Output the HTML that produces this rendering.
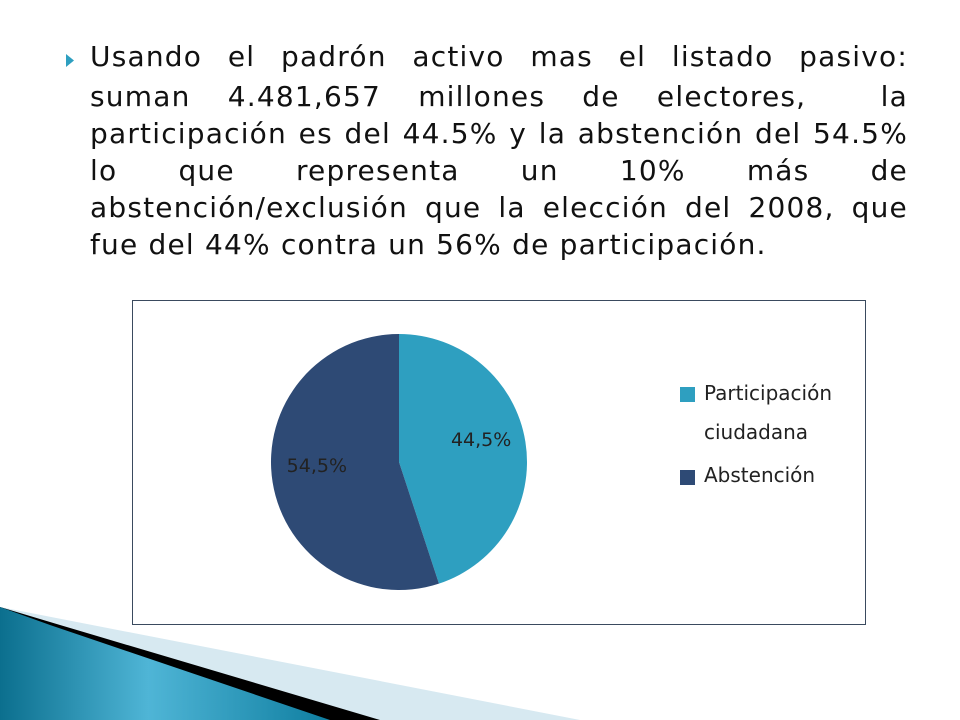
<!DOCTYPE html>
<html><head><meta charset="utf-8">
<style>
html,body{margin:0;padding:0;background:#fff;}
#root{position:relative;width:960px;height:720px;overflow:hidden;background:#fff;font-family:"DejaVu Sans","Liberation Sans",sans-serif;}
.line{position:absolute;left:90px;width:818px;font-size:28px;letter-spacing:1.2px;color:#111;text-align:justify;text-align-last:justify;white-space:nowrap;}
.line.last{text-align-last:left;}
</style></head>
<body>
<div id="root">
<svg style="position:absolute;left:0;top:0" width="960" height="720">
  <defs>
    <linearGradient id="gb" x1="0" y1="0" x2="1" y2="0">
      <stop offset="0" stop-color="#0b6f8e"/><stop offset="0.45" stop-color="#4fb5d6"/><stop offset="1" stop-color="#0f7ea0"/>
    </linearGradient>
  </defs>
  <polygon points="0,607 580,720 0,720" fill="#d7e9f1"/>
  <polygon points="0,607 60,625 380,720 0,720" fill="#000"/>
  <polygon points="0,607 50,625 330,720 0,720" fill="url(#gb)"/>
  <polygon points="66,54 74,60.5 66,67" fill="#2e9fc0"/>
  <rect x="132.5" y="300.5" width="733" height="324" fill="none" stroke="#3a4a5e" stroke-width="1"/>
  <g id="pie"></g>
  <rect x="680" y="387" width="15" height="15" fill="#2e9fc0"/>
  <text x="704" y="400" font-size="20" fill="#222" font-family="DejaVu Sans, sans-serif">Participación</text>
  <text x="704" y="439" font-size="20" fill="#222" font-family="DejaVu Sans, sans-serif">ciudadana</text>
  <rect x="680" y="470" width="15" height="15" fill="#2e4a75"/>
  <text x="704" y="482" font-size="20" fill="#222" font-family="DejaVu Sans, sans-serif">Abstención</text>
</svg>
<div class="line" style="top:40px">Usando el padrón activo mas el listado pasivo:</div>
<div class="line" style="top:80px">suman 4.481,657 millones de electores, &nbsp;la</div>
<div class="line" style="top:117px">participación es del 44.5% y la abstención del 54.5%</div>
<div class="line" style="top:154px">lo que representa un 10% más de</div>
<div class="line" style="top:191px">abstención/exclusión que la elección del 2008, que</div>
<div class="line last" style="top:228px">fue del 44% contra un 56% de participación.</div>
</div>
<script>
const categories = ["Participación ciudadana", "Abstención"];
const values = [44.5, 54.5];
const valueLabels = ["44,5%", "54,5%"];
const colors = ["#2e9fc0", "#2e4a75"];
const cx = 399, cy = 462, r = 128;
const g = document.getElementById('pie');
const NS = 'http://www.w3.org/2000/svg';
const total = values.reduce((a,b)=>a+b,0);
function pt(a, rr){ return [cx + rr*Math.sin(a), cy - rr*Math.cos(a)]; }
let start = 0;
values.forEach((v,i)=>{
  const sweep = v/total*2*Math.PI;
  const end = start + sweep;
  const [x1,y1] = pt(start, r), [x2,y2] = pt(end, r);
  const p = document.createElementNS(NS,'path');
  p.setAttribute('d', `M${cx},${cy} L${x1},${y1} A${r},${r} 0 ${sweep>Math.PI?1:0} 1 ${x2},${y2} Z`);
  p.setAttribute('fill', colors[i]);
  
  
  g.appendChild(p);
  const mid = start + sweep/2;
  const [lx,ly] = pt(mid, r*0.65);
  const t = document.createElementNS(NS,'text');
  t.setAttribute('x', lx); t.setAttribute('y', ly-3);
  t.setAttribute('text-anchor','middle');
  t.setAttribute('font-size','19');
  t.setAttribute('font-family','DejaVu Sans, sans-serif');
  t.setAttribute('fill','#222');
  t.textContent = valueLabels[i];
  
  
  g.appendChild(t);
  start = end;
});
</script>
</body></html>
